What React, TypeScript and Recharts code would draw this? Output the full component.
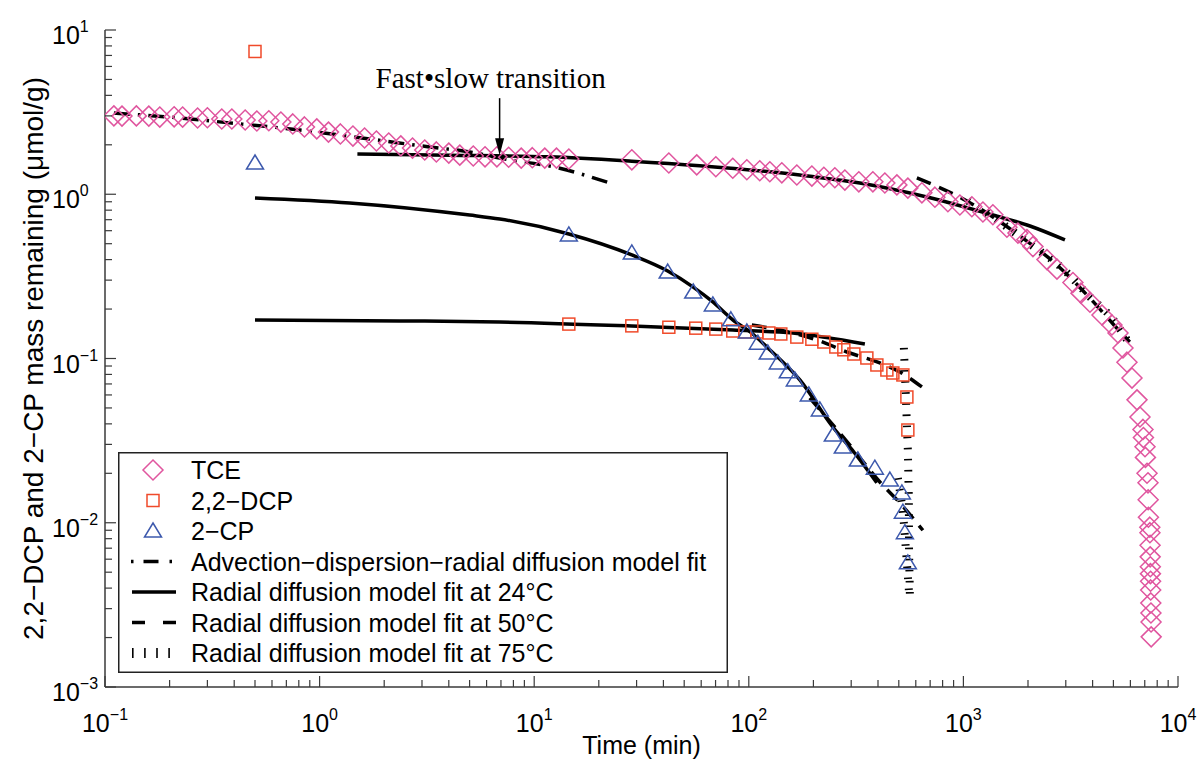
import React from "react";
import {
  ComposedChart,
  Scatter,
  Line,
  XAxis,
  YAxis,
  Legend,
  ReferenceDot,
  Label,
} from "recharts";

// measured data: time (min) and mass remaining (umol/g)
const tceTime = [
  0.11, 0.12, 0.14, 0.16, 0.18, 0.21, 0.23, 0.27, 0.3, 0.35, 0.39, 0.45, 0.51,
  0.58, 0.66, 0.75, 0.85, 0.97, 1.1, 1.25, 1.43, 1.62, 1.84, 2.1, 2.39, 2.71,
  3.09, 3.5, 4.0, 4.5, 5.2, 5.9, 6.7, 7.6, 8.7, 9.8, 11.2, 12.7, 14.5, 28.5,
  42.4, 57.2, 70.2, 84.2, 97.9, 112.5, 125.3, 142.5, 167.4, 196.7, 223.7,
  251.7, 280.3, 325.6, 378.5, 430.5, 489.8, 551, 640.6, 736.6, 846.7, 963,
  1095, 1233, 1372, 1595, 1795, 1977, 2109, 2451, 2729, 3239, 3530, 3888, 4423,
  4924, 5253, 5541, 5783, 6103, 6441, 6651, 6869, 6900, 7019, 7050, 7171, 7247,
  7260, 7280, 7390, 7400, 7410, 7420, 7430, 7440, 7450, 7460, 7470, 7480, 7490,
  7500,
];
const tceMass = [
  3.0, 2.99, 3.0, 2.99, 2.95, 2.96, 2.95, 2.91, 2.92, 2.87, 2.87, 2.83, 2.79,
  2.8, 2.75, 2.68, 2.57, 2.5, 2.39, 2.33, 2.26, 2.2, 2.11, 2.05, 1.97, 1.91,
  1.86, 1.81, 1.78, 1.73, 1.71, 1.69, 1.69, 1.68, 1.66, 1.67, 1.66, 1.66, 1.64,
  1.62, 1.55, 1.51, 1.47, 1.44, 1.41, 1.39, 1.37, 1.35, 1.31, 1.29, 1.27, 1.26,
  1.22, 1.19, 1.19, 1.17, 1.14, 1.09, 1.02, 0.96, 0.9, 0.86, 0.84, 0.78, 0.75,
  0.63, 0.58, 0.53, 0.48, 0.4, 0.35, 0.29, 0.25, 0.22, 0.184, 0.16, 0.143,
  0.116, 0.095, 0.076, 0.056, 0.044, 0.037, 0.033, 0.029, 0.025, 0.02, 0.0175,
  0.0138, 0.0108, 0.0094, 0.0087, 0.0073, 0.0062, 0.0054, 0.0049, 0.0044,
  0.0039, 0.00325, 0.00282, 0.00249, 0.00202,
];

const dcpTime = [
  0.5, 14.5, 28.5, 42.4, 56.6, 70.2, 84.2, 95.8, 109, 124, 141, 167.4, 196.7,
  223.7, 254.4, 277.3, 308.7, 354.9, 395.2, 439.9, 469.2, 522.4, 545.3, 551,
];
const dcpMass = [
  7.4, 0.162, 0.158, 0.155, 0.153, 0.151, 0.147, 0.145, 0.145, 0.143, 0.141,
  0.135, 0.131, 0.126, 0.1175, 0.113, 0.1065, 0.1007, 0.0913, 0.0851, 0.0816,
  0.0794, 0.0583, 0.0367,
];

const cpTime = [
  0.5, 14.5, 28.5, 41.9, 55.1, 68, 82.5, 97.9, 110.2, 122.6, 136.5, 152, 163.9,
  190.4, 214.3, 246.4, 274.3, 322.3, 386.7, 454.4, 516.8, 522.4, 533.7, 551,
];
const cpMass = [
  1.55, 0.565, 0.439, 0.336, 0.254, 0.212, 0.172, 0.145, 0.124, 0.108, 0.094,
  0.083, 0.074, 0.06, 0.0486, 0.0342, 0.0289, 0.0241, 0.0215, 0.0182, 0.0152,
  0.0116, 0.0087, 0.0057,
];

// model fits
const advTime = [0.11, 0.2, 0.38, 0.81, 1.71, 3.26, 5.0, 6.91, 13.15, 22.5];
const advMass = [3.12, 2.95, 2.72, 2.46, 2.17, 1.94, 1.81, 1.66, 1.44, 1.17];

const tce24Time = [1.5, 4.04, 11.8, 28.5, 59.1, 172.9, 329.3, 675.7, 1372, 2042, 2973];
const tce24Mass = [1.76, 1.73, 1.69, 1.59, 1.49, 1.31, 1.17, 0.962, 0.747, 0.641, 0.527];

const cp24Time = [0.5, 1.38, 5.0, 6.91, 14.5, 28.5, 41.9, 55.1, 68, 84.2, 104.4, 121.3, 172.9, 246.4, 311.2, 395.2];
const cp24Mass = [0.949, 0.885, 0.747, 0.707, 0.573, 0.427, 0.341, 0.272, 0.221, 0.172, 0.141, 0.1175, 0.074, 0.0383, 0.0266, 0.0175];

const dcp24Time = [0.5, 2.36, 6.91, 28.5, 84.2, 160.4, 347.4];
const dcp24Mass = [0.1716, 0.1694, 0.1669, 0.1577, 0.149, 0.143, 0.1226];

const tce50Time = [607, 1038, 1834, 2729, 3888, 5031, 5959];
const tce50Mass = [1.256, 0.91, 0.557, 0.371, 0.233, 0.16, 0.126];

const dcp50Time = [103.3, 139.5, 207.5, 295.8, 408, 505.8, 640.6];
const dcp50Mass = [0.16, 0.149, 0.1296, 0.108, 0.0939, 0.0828, 0.0671];

const cp50Time = [192.5, 295.8, 408, 505.8, 647.5];
const cp50Mass = [0.0575, 0.0297, 0.0177, 0.0132, 0.009];

const tce75Time = [1050, 1480, 2042, 2879, 3888, 5004, 5783];
const tce75Mass = [0.91, 0.678, 0.498, 0.356, 0.237, 0.172, 0.13];

const dcp75Time = [528, 540, 551, 557, 558, 563];
const dcp75Mass = [0.116, 0.0559, 0.0277, 0.0138, 0.0068, 0.0037];

const cp75Time = [495, 522, 540, 557];
const cp75Mass = [0.0187, 0.012, 0.0068, 0.0039];

const xMajorTicks = [0.1, 1, 10, 100, 1000, 10000];
const yMajorTicks = [0.001, 0.01, 0.1, 1, 10];

const legendRows = [
  { name: "TCE", mark: "diamond" },
  { name: "2,2\u2212DCP", mark: "square" },
  { name: "2\u2212CP", mark: "triangle" },
  { name: "Advection\u2212dispersion\u2212radial diffusion model fit", mark: "dashdot" },
  { name: "Radial diffusion model fit at 24\u00b0C", mark: "solid" },
  { name: "Radial diffusion model fit at 50\u00b0C", mark: "dashed" },
  { name: "Radial diffusion model fit at 75\u00b0C", mark: "ticks" },
];

const FONT = "'Liberation Sans', Arial, Helvetica, sans-serif";
const SERIF = "'Liberation Serif', 'Times New Roman', serif";
const AXIS = "#3a3a3a";
const TCE_COLOR = "#e0569f";
const DCP_COLOR = "#f04a2a";
const CP_COLOR = "#3d59ad";

const pairs = (t: number[], v: number[]) => t.map((x, i) => ({ t: x, v: v[i] }));

const withMinor = (majors: number[]) =>
  [
    ...majors,
    ...majors.slice(0, -1).flatMap((m) => [2, 3, 4, 5, 6, 7, 8, 9].map((k) => k * m)),
  ].sort((a, b) => a - b);

const exponentOf = (v: number) => Math.round(Math.log10(v));
const isMajor = (v: number) => Math.abs(Math.log10(v) - exponentOf(v)) < 1e-6;
const expText = (v: number) => {
  const e = exponentOf(v);
  return e < 0 ? `\u2212${-e}` : `${e}`;
};

const MAJOR_LEN = 11;
const MINOR_LEN = 7;

const BottomTick = ({ x, y, payload }: any) => {
  const major = isMajor(payload.value);
  return (
    <g>
      <line x1={x} x2={x} y1={y} y2={y - (major ? MAJOR_LEN : MINOR_LEN)} stroke={AXIS} strokeWidth={1.2} />
      {major && (
        <text x={x} y={y + 45} textAnchor="middle" fontFamily={FONT} fontSize={25} fill="#000">
          10
          <tspan fontSize={16} dy={-12}>
            {expText(payload.value)}
          </tspan>
        </text>
      )}
    </g>
  );
};

const TopTick = ({ x, y, payload }: any) => (
  <line
    x1={x}
    x2={x}
    y1={y}
    y2={y + (isMajor(payload.value) ? MAJOR_LEN : MINOR_LEN)}
    stroke={AXIS}
    strokeWidth={1.2}
  />
);

const LeftTick = ({ x, y, payload }: any) => {
  const major = isMajor(payload.value);
  return (
    <g>
      <line x1={x} x2={x + (major ? MAJOR_LEN : MINOR_LEN)} y1={y} y2={y} stroke={AXIS} strokeWidth={1.2} />
      {major && (
        <text x={x - 53} y={y + 14} textAnchor="start" fontFamily={FONT} fontSize={25} fill="#000">
          10
          <tspan fontSize={16} dy={-12}>
            {expText(payload.value)}
          </tspan>
        </text>
      )}
    </g>
  );
};

const RightTick = ({ x, y, payload }: any) => (
  <line
    x1={x}
    x2={x - (isMajor(payload.value) ? MAJOR_LEN : MINOR_LEN)}
    y1={y}
    y2={y}
    stroke={AXIS}
    strokeWidth={1.2}
  />
);

const DiamondMark = ({ cx, cy }: any) => (
  <path
    d={`M${cx},${cy - 10}L${cx + 10},${cy}L${cx},${cy + 10}L${cx - 10},${cy}Z`}
    fill="none"
    stroke={TCE_COLOR}
    strokeWidth={1.5}
  />
);

const SquareMark = ({ cx, cy }: any) => (
  <rect x={cx - 6} y={cy - 6} width={12} height={12} fill="none" stroke={DCP_COLOR} strokeWidth={1.5} />
);

const TriangleMark = ({ cx, cy }: any) => (
  <path
    d={`M${cx},${cy - 8}L${cx + 8.5},${cy + 6}L${cx - 8.5},${cy + 6}Z`}
    fill="none"
    stroke={CP_COLOR}
    strokeWidth={1.5}
  />
);

const TransitionNote = ({ cx, cy }: any) => (
  <g>
    <text x={cx - 9} y={cy - 67} textAnchor="middle" fontFamily={SERIF} fontSize={29} fill="#000">
      Fast•slow transition
    </text>
    <line x1={cx} x2={cx} y1={cy - 57} y2={cy - 14} stroke="#000" strokeWidth={1.5} />
    <path d={`M${cx - 4.5},${cy - 17}L${cx + 4.5},${cy - 17}L${cx},${cy}Z`} fill="#000" />
  </g>
);

const XTitle = ({ viewBox }: any) => (
  <text
    x={viewBox.x + viewBox.width / 2}
    y={viewBox.y + 67}
    textAnchor="middle"
    fontFamily={FONT}
    fontSize={25}
    fill="#000"
  >
    Time (min)
  </text>
);

const YTitle = ({ viewBox }: any) => {
  const cx = 43;
  const cy = viewBox.y + viewBox.height / 2;
  return (
    <text
      x={cx}
      y={cy}
      transform={`rotate(-90, ${cx}, ${cy})`}
      textAnchor="middle"
      fontFamily={FONT}
      fontSize={28}
      fill="#000"
    >
      2,2−DCP and 2−CP mass remaining (μmol/g)
    </text>
  );
};

const LegendMark = ({ mark, cy }: { mark: string; cy: number }) => {
  const cx = 35;
  switch (mark) {
    case "diamond":
      return <DiamondMark cx={cx} cy={cy} />;
    case "square":
      return <SquareMark cx={cx} cy={cy} />;
    case "triangle":
      return <TriangleMark cx={cx} cy={cy} />;
    case "dashdot":
      return <line x1={13} x2={55} y1={cy} y2={cy} stroke="#000" strokeWidth={3.5} strokeDasharray="2.5 10 15 11 2.5 100" />;
    case "solid":
      return <line x1={14} x2={58} y1={cy} y2={cy} stroke="#000" strokeWidth={3.5} />;
    case "dashed":
      return <line x1={14} x2={58} y1={cy} y2={cy} stroke="#000" strokeWidth={3.5} strokeDasharray="13 18" />;
    default:
      return <line x1={14} x2={53} y1={cy} y2={cy} stroke="#000" strokeWidth={10} strokeDasharray="1.6 10.5" />;
  }
};

const LegendBox = () => (
  <svg width={610} height={221} style={{ display: "block" }}>
    <rect x={0.75} y={0.75} width={608.5} height={219.5} fill="#fff" stroke="#222" strokeWidth={1.5} />
    {legendRows.map((row, i) => {
      const cy = 18 + i * 30.5;
      return (
        <g key={row.name}>
          <LegendMark mark={row.mark} cy={cy} />
          <text x={73} y={cy + 9} fontFamily={FONT} fontSize={25} fill="#000">
            {row.name}
          </text>
        </g>
      );
    })}
  </svg>
);

const fitLine = (key: string, data: { t: number; v: number }[], dash?: string, width = 3.5, type: any = "monotone") => (
  <Line
    key={key}
    data={data}
    dataKey="v"
    type={type}
    stroke="#000"
    strokeWidth={width}
    strokeDasharray={dash}
    strokeLinecap="butt"
    dot={false}
    activeDot={false}
    legendType="none"
    isAnimationActive={false}
  />
);

const TICKS_DASH = "1.6 9.5";

export default function App() {
  const xTicks = withMinor(xMajorTicks);
  const yTicks = withMinor(yMajorTicks);

  return (
    <div style={{ position: "absolute", left: 0, top: 0, background: "#fff" }}>
      <ComposedChart width={1198} height={759} margin={{ top: 30, right: 20, bottom: 0, left: 0 }}>
        <XAxis
          dataKey="t"
          type="number"
          scale="log"
          domain={[0.1, 10000]}
          allowDataOverflow
          ticks={xTicks}
          interval={0}
          height={72}
          tickSize={0}
          tickMargin={0}
          tickLine={false}
          tick={<BottomTick />}
          axisLine={{ stroke: AXIS, strokeWidth: 1.5 }}
        >
          <Label content={XTitle} />
        </XAxis>
        <XAxis
          xAxisId="top"
          orientation="top"
          dataKey="t"
          type="number"
          scale="log"
          domain={[0.1, 10000]}
          allowDataOverflow
          ticks={xTicks}
          interval={0}
          height={0}
          tickSize={0}
          tickMargin={0}
          tickLine={false}
          tick={<TopTick />}
          axisLine={{ stroke: AXIS, strokeWidth: 1.5 }}
        />
        <YAxis
          dataKey="v"
          type="number"
          scale="log"
          domain={[0.001, 10]}
          allowDataOverflow
          ticks={yTicks}
          interval={0}
          width={105}
          tickSize={0}
          tickMargin={0}
          tickLine={false}
          tick={<LeftTick />}
          axisLine={{ stroke: AXIS, strokeWidth: 1.5 }}
        >
          <Label content={YTitle} />
        </YAxis>
        <YAxis
          yAxisId="right"
          orientation="right"
          dataKey="v"
          type="number"
          scale="log"
          domain={[0.001, 10]}
          allowDataOverflow
          ticks={yTicks}
          interval={0}
          width={0}
          tickSize={0}
          tickMargin={0}
          tickLine={false}
          tick={<RightTick />}
          axisLine={{ stroke: AXIS, strokeWidth: 1.5 }}
        />

        <Scatter name="TCE" data={pairs(tceTime, tceMass)} shape={<DiamondMark />} isAnimationActive={false} />
        <Scatter name="2,2-DCP" data={pairs(dcpTime, dcpMass)} shape={<SquareMark />} isAnimationActive={false} />
        <Scatter name="2-CP" data={pairs(cpTime, cpMass)} shape={<TriangleMark />} isAnimationActive={false} />

        {fitLine("adv", pairs(advTime, advMass), "16 8 2.5 8")}
        {fitLine("tce24", pairs(tce24Time, tce24Mass))}
        {fitLine("cp24", pairs(cp24Time, cp24Mass))}
        {fitLine("dcp24", pairs(dcp24Time, dcp24Mass))}
        {fitLine("tce50", pairs(tce50Time, tce50Mass), "15 9")}
        {fitLine("dcp50", pairs(dcp50Time, dcp50Mass), "15 9")}
        {fitLine("cp50", pairs(cp50Time, cp50Mass), "15 9")}
        {fitLine("tce75", pairs(tce75Time, tce75Mass), TICKS_DASH, 8)}
        {fitLine("dcp75", pairs(dcp75Time, dcp75Mass), TICKS_DASH, 8, "linear")}
        {fitLine("cp75", pairs(cp75Time, cp75Mass), TICKS_DASH, 8, "linear")}

        <ReferenceDot x={6.9} y={1.73} r={0} shape={TransitionNote} />

        <Legend
          layout="vertical"
          align="center"
          verticalAlign="middle"
          content={<LegendBox />}
          wrapperStyle={{ left: 118, top: 452, width: 610, height: 221, margin: 0, padding: 0, lineHeight: 0 }}
        />
      </ComposedChart>
    </div>
  );
}
